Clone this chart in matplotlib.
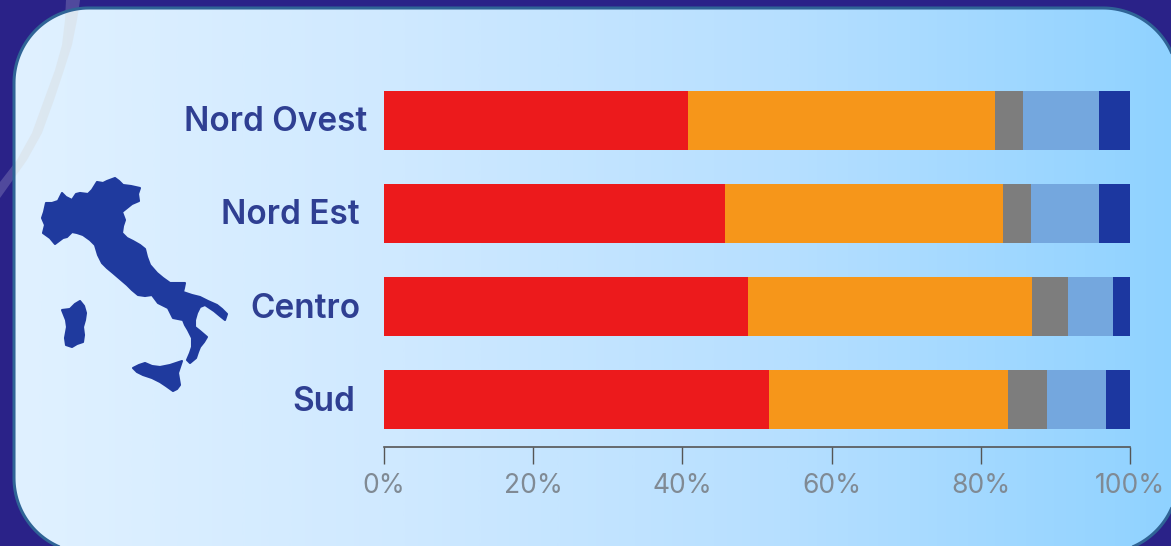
import matplotlib
matplotlib.use('Agg')
import matplotlib.pyplot as plt
import numpy as np
from matplotlib.colors import LinearSegmentedColormap
from matplotlib.patches import Polygon

W, H = 1171, 546

# dati (percentuali)
regioni = ['Nord Ovest', 'Nord Est', 'Centro', 'Sud']
rosso = [40.8, 45.7, 48.8, 51.6]
arancio = [41.1, 37.3, 38.1, 32.1]
grigio = [3.8, 3.7, 4.8, 5.2]
azzurro = [10.1, 9.1, 6.0, 7.9]
blu = [4.2, 4.2, 2.3, 3.2]
serie = [rosso, arancio, grigio, azzurro, blu]
colori = ['#ec1a1c', '#f6961a', '#7d7d7d', '#74a7de', '#1c37a0']
tick_val = [0, 20, 40, 60, 80, 100]
tick_lab = ['0%', '20%', '40%', '60%', '80%', '100%']

# spostamenti delle etichette: bordo destro (px) e scarto verticale
label_dx = [-17, -24, -23, -29]
label_dy = [-2, -2, -2, -2]

# sagoma dell'Italia, solo decorazione (coordinate in pixel)
italia = [(42, 218), (44, 212), (46, 203), (52, 203), (58, 201), (62, 193), (66, 197), (72, 200),
          (76, 194), (80, 193), (88, 194), (92, 190), (97, 182), (103, 183), (107, 181), (115, 178),
          (119, 181), (123, 185), (131, 186), (140, 188), (138, 194), (139, 201), (132, 204),
          (127, 208), (122, 212), (125, 220), (123, 226), (122, 233), (127, 238), (133, 241),
          (140, 245), (145, 249), (147, 257), (150, 265), (157, 273), (163, 278), (170, 283),
          (178, 283), (185, 283), (184, 288), (183, 292), (192, 295), (200, 297), (208, 301),
          (217, 305), (222, 309), (227, 314), (225, 320), (220, 316), (214, 311), (205, 305),
          (200, 307), (197, 313), (195, 320), (195, 327), (200, 331), (207, 337), (204, 342),
          (200, 347), (198, 352), (196, 358), (190, 363), (187, 360), (190, 353), (192, 347),
          (192, 338), (188, 330), (185, 325), (183, 320), (173, 318), (170, 312), (168, 308),
          (158, 303), (152, 295), (145, 296), (138, 295), (132, 290), (127, 285), (120, 279),
          (113, 273), (107, 268), (102, 263), (98, 255), (95, 245), (90, 240), (83, 235),
          (77, 233), (72, 232), (67, 237), (63, 238), (55, 244), (50, 238), (43, 233), (45, 225)]
sardegna = [(62, 310), (70, 309), (75, 304), (80, 301), (84, 306), (86, 313), (85, 320), (83, 327),
            (84, 335), (83, 342), (77, 344), (72, 347), (66, 345), (65, 338), (67, 327), (66, 320),
            (64, 315)]
sicilia = [(133, 368), (139, 365), (145, 363), (152, 366), (160, 367), (170, 365), (182, 361),
           (180, 367), (178, 373), (180, 385), (177, 389), (173, 391), (166, 386), (160, 382),
           (152, 378), (143, 375), (137, 372)]
arco_xy = [(66, 0), (80, 0), (77, 20), (72, 45), (64, 70), (54, 100), (42, 133), (27, 160), (0, 198),
           (0, 182), (17, 160), (32, 133), (44, 100), (55, 70), (62, 45), (65, 20)]


def rettangolo_tondo(x0, y0, x1, y1, r):
    # contorno del pannello con angoli arrotondati
    t = np.linspace(0, np.pi / 2, 40)
    xs = np.r_[x0 + r - r * np.cos(t), x1 - r + r * np.sin(t), x1 - r + r * np.cos(t), x0 + r - r * np.sin(t)]
    ys = np.r_[y0 + r - r * np.sin(t), y0 + r - r * np.cos(t), y1 - r + r * np.sin(t), y1 - r + r * np.cos(t)]
    return np.c_[xs, ys]


fig = plt.figure(figsize=(W / 100, H / 100), dpi=100, facecolor='#2a2288')

# sfondo in coordinate pixel
bg = fig.add_axes([0, 0, 1, 1])
bg.axis('off')

bg.add_patch(Polygon(arco_xy, fc='white', ec='none', alpha=0.18, zorder=0.5))

cmap = LinearSegmentedColormap.from_list('sf', ['#e0f1ff', '#cfe9ff', '#b6dfff', '#8fd2ff'])
grad = np.linspace(0, 1, 400).reshape(1, -1)
im = bg.imshow(grad, extent=[14, 1178, 553, 8], cmap=cmap, aspect='auto', zorder=1)
pannello = Polygon(rettangolo_tondo(14, 8, 1178, 553, 75), fc='none', ec='#2f6496', lw=2.2, zorder=3)
bg.add_patch(pannello)
im.set_clip_path(pannello)

arco_in = Polygon(arco_xy, fc='#dbe4ec', ec='none', alpha=0.75, zorder=2)
bg.add_patch(arco_in)
arco_in.set_clip_path(pannello)

bg.set_xlim(0, W)
bg.set_ylim(H, 0)

for sagoma in (italia, sardegna, sicilia):
    bg.add_patch(Polygon(sagoma, fc='#1f3a9e', ec='#1f3a9e', lw=1.5, joinstyle='round', zorder=4))

# barre
ax = fig.add_axes([384 / W, 1 - 446.5 / H, 746 / W, 373 / H])
ax.patch.set_alpha(0)
y = np.arange(len(regioni))
left = np.zeros(len(regioni))
for val, col in zip(serie, colori):
    ax.barh(y, val, left=left, height=59 / 93, color=col, lw=0)
    left += np.array(val)

ax.set_xlim(0, 100)
ax.set_ylim(3.5, -0.5)
ax.set_yticks([])
ax.set_xticks(tick_val)
ax.set_xticklabels(tick_lab, family='Inter', fontsize=19, color='#808a94')
ax.tick_params(axis='x', length=12, width=1, color='#555555', pad=7)
for s in ['top', 'left', 'right']:
    ax.spines[s].set_visible(False)
ax.spines['bottom'].set_color('#555555')
ax.spines['bottom'].set_linewidth(1.2)

for i, nome in enumerate(regioni):
    ax.annotate(nome, xy=(0, i), xycoords='data', xytext=(label_dx[i] * 0.72, label_dy[i] * 0.72),
                textcoords='offset points', ha='right', va='center', family='Inter',
                fontweight='semibold', fontsize=24, color='#2f3f92')

fig.savefig('out.png', dpi=100, facecolor=fig.get_facecolor())
